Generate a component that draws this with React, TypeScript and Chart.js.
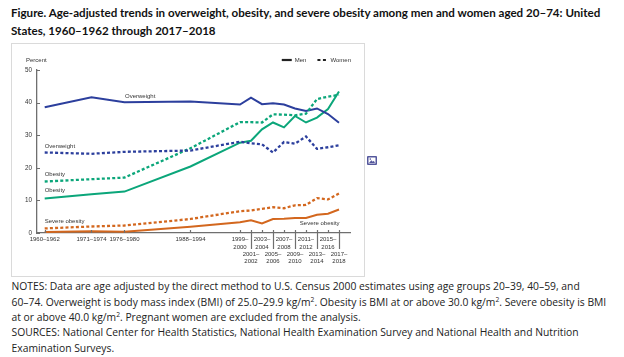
import { useEffect, useRef } from "react";
import { Chart, registerables } from "chart.js";

Chart.register(...registerables);

// Survey periods and their plotted positions on the time axis
const periodLabels = [
  "1960–1962", "1971–1974", "1976–1980", "1988–1994", "1999–2000", "2001–2002",
  "2003–2004", "2005–2006", "2007–2008", "2009–2010", "2011–2012", "2013–2014",
  "2015–2016", "2017–2018",
];
const periodX = [1964, 1972.5, 1978.5, 1990.5, 1999.5, 2001.5, 2003.5, 2005.5, 2007.5, 2009.5, 2011.5, 2013.5, 2015.5, 2017.5];

// Percent values
const menOverweight = [38.6, 41.6, 40.1, 40.3, 39.4, 41.5, 39.5, 39.8, 39.4, 38.2, 37.4, 38.2, 36.5, 33.8];
const womenOverweight = [24.7, 24.3, 24.9, 25.3, 28.0, 27.5, 27.2, 24.7, 27.9, 27.4, 29.6, 25.8, 26.3, 26.9];
const menObesity = [10.6, 11.9, 12.7, 20.4, 27.7, 28.3, 31.8, 33.9, 32.4, 35.9, 33.9, 35.4, 38.0, 43.4];
const womenObesity = [15.8, 16.5, 17.0, 26.0, 34.0, 34.0, 33.9, 36.4, 36.3, 36.1, 36.6, 41.1, 41.8, 42.4];
const menSevere = [0.3, 0.5, 0.4, 1.9, 3.3, 3.9, 2.9, 4.3, 4.4, 4.6, 4.6, 5.6, 5.9, 7.2];
const womenSevere = [1.4, 2.0, 2.3, 4.3, 6.7, 6.9, 7.4, 7.9, 7.6, 8.5, 8.6, 10.7, 10.3, 12.1];

const yTickValues = [0, 10, 20, 30, 40, 50];

const BLUE = "#2c3f9d";
const GREEN = "#0ba67a";
const ORANGE = "#d3671e";
const AXIS = "#6f6f6f";
const TEXT = "#333333";
const CHART_FONT = '"Liberation Sans", Arial, sans-serif';

const isLowerRow = (i: number) => i >= 5 && (i - 5) % 2 === 0;

function tickLabel(i: number): string | string[] {
  const lab = periodLabels[i];
  if (i < 4) return lab;
  const [a, b] = lab.split("–");
  return isLowerRow(i) ? ["", "", a + "–", b] : [a + "–", b];
}

const annotations = [
  { text: "Overweight", x: 1978.6, y: 42.0, align: "left" },
  { text: "Overweight", x: 1964, y: 26.6, align: "left" },
  { text: "Obesity", x: 1964, y: 18.0, align: "left" },
  { text: "Obesity", x: 1964, y: 13.1, align: "left" },
  { text: "Severe obesity", x: 1964, y: 3.5, align: "left" },
  { text: "Severe obesity", x: 2017.6, y: 3.0, align: "right" },
];

const overlayPlugin = {
  id: "overlay",
  afterDraw(chart: any) {
    const { ctx, chartArea: ca } = chart;
    const xs = chart.scales.x;
    const ys = chart.scales.y;
    ctx.save();
    // inward tick marks and separators
    ctx.strokeStyle = AXIS;
    ctx.lineWidth = 1.2;
    ctx.setLineDash([]);
    ctx.beginPath();
    yTickValues.forEach((v) => {
      const py = Math.round(ys.getPixelForValue(v)) + 0.5;
      ctx.moveTo(ca.left, py);
      ctx.lineTo(ca.left + 3, py);
    });
    periodX.forEach((v, i) => {
      const px = Math.round(xs.getPixelForValue(v)) + 0.5;
      ctx.moveTo(px, ca.bottom - 3);
      ctx.lineTo(px, isLowerRow(i) ? ca.bottom + 16 : ca.bottom);
    });
    ctx.stroke();

    ctx.font = `6px ${CHART_FONT}`;
    ctx.fillStyle = TEXT;
    ctx.textBaseline = "middle";
    annotations.forEach((a) => {
      ctx.textAlign = a.align;
      ctx.fillText(a.text, xs.getPixelForValue(a.x), ys.getPixelForValue(a.y));
    });

    // axis unit
    ctx.textAlign = "left";
    const topY = ca.top - 10;
    ctx.fillText("Percent", ca.left - 11, topY);

    // legend
    const womenW = ctx.measureText("Women").width;
    const menW = ctx.measureText("Men").width;
    const womenX = ca.right + 1 - womenW;
    ctx.fillText("Women", womenX, topY);
    const menX = womenX - 13 - 11 - menW;
    ctx.fillText("Men", menX, topY);
    ctx.strokeStyle = "#222";
    ctx.lineWidth = 2.2;
    ctx.beginPath();
    ctx.moveTo(menX - 13, topY);
    ctx.lineTo(menX - 3, topY);
    ctx.stroke();
    ctx.setLineDash([3, 2.5]);
    ctx.beginPath();
    ctx.moveTo(womenX - 13, topY);
    ctx.lineTo(womenX - 2.5, topY);
    ctx.stroke();
    ctx.restore();
  },
};

function series(values: number[]) {
  return periodX.map((x, i) => ({ x, y: values[i] }));
}

function ChartBox() {
  const ref = useRef<HTMLCanvasElement | null>(null);
  useEffect(() => {
    if (!ref.current) return;
    const solid = (label: string, data: number[], color: string) => ({
      label, data: series(data), borderColor: color, backgroundColor: color,
      borderWidth: 2, pointRadius: 0, tension: 0, fill: false,
    });
    const dotted = (label: string, data: number[], color: string) => ({
      ...solid(label, data, color), borderWidth: 2.3, borderDash: [3, 2.2],
    });
    const chart = new Chart(ref.current, {
      type: "line",
      data: {
        datasets: [
          dotted("Women overweight", womenOverweight, BLUE),
          dotted("Women obesity", womenObesity, GREEN),
          dotted("Women severe obesity", womenSevere, ORANGE),
          solid("Men overweight", menOverweight, BLUE),
          solid("Men obesity", menObesity, GREEN),
          solid("Men severe obesity", menSevere, ORANGE),
        ],
      },
      options: {
        animation: false,
        responsive: false,
        devicePixelRatio: 1,
        layout: { padding: { top: 27, right: 15, left: 0, bottom: 0 } },
        plugins: { legend: { display: false }, tooltip: { enabled: false } },
        scales: {
          x: {
            type: "linear",
            min: 1962.6,
            max: 2019.5,
            afterBuildTicks: (s: any) => {
              s.ticks = periodX.map((v) => ({ value: v }));
            },
            afterFit: (s: any) => {
              s.height = 44;
            },
            grid: { display: true, drawOnChartArea: false, drawTicks: false },
            border: { display: true, color: AXIS, width: 1.3 },
            ticks: {
              autoSkip: false,
              maxRotation: 0,
              minRotation: 0,
              padding: 3,
              color: TEXT,
              font: { size: 6, family: CHART_FONT, lineHeight: 1.22 },
              callback: (_v: any, i: number) => tickLabel(i),
            },
          },
          y: {
            min: 0,
            max: 50,
            afterFit: (s: any) => {
              s.width = 26;
            },
            grid: { display: true, drawOnChartArea: false, drawTicks: false },
            border: { display: true, color: AXIS, width: 1.3 },
            ticks: {
              stepSize: 10,
              padding: 5,
              color: TEXT,
              font: { size: 6.3, family: CHART_FONT },
            },
          },
        },
      },
      plugins: [overlayPlugin],
    } as any);
    return () => chart.destroy();
  }, []);
  return (
    <canvas
      ref={ref}
      width={354}
      height={234}
      style={{ position: "absolute", left: 11, top: 43, width: 354, height: 234 }}
    />
  );
}

let measureCtx: CanvasRenderingContext2D | null = null;
function fitSize(text: string, weight: string, family: string, target: number) {
  if (!measureCtx) measureCtx = document.createElement("canvas").getContext("2d");
  if (!measureCtx) return 12;
  measureCtx.font = `${weight} 100px ${family}`;
  return (100 * target) / measureCtx.measureText(text).width;
}

const titleLine1 =
  "Figure. Age-adjusted trends in overweight, obesity, and severe obesity among men and women aged 20–74: United";
const titleLine2 = "States, 1960–1962 through 2017–2018";
const notesLine1 =
  "NOTES: Data are age adjusted by the direct method to U.S. Census 2000 estimates using age groups 20–39, 40–59, and";

export default function App() {
  const titleFamily = '"Lato", "Open Sans", sans-serif';
  const notesFamily = '"Open Sans", sans-serif';
  const titleSize = fitSize(titleLine1, "bold", titleFamily, 591);
  const notesSize = fitSize(notesLine1, "normal", notesFamily, 569);
  const sup = (t: string) => (
    <sup style={{ fontSize: "0.65em", lineHeight: 0, verticalAlign: "0.55em" }}>{t}</sup>
  );
  const lineStyle: any = { whiteSpace: "nowrap", height: 15.4, lineHeight: "15.4px" };
  return (
    <div
      style={{
        position: "fixed", left: 0, top: 0, width: 624, height: 357,
        background: "#ffffff", overflow: "hidden",
      }}
    >
      <div
        style={{
          position: "absolute", left: 11, top: 4, fontFamily: titleFamily,
          fontWeight: "bold", fontSize: titleSize, lineHeight: "18px", color: "#111",
          whiteSpace: "nowrap",
        }}
      >
        <div>{titleLine1}</div>
        <div>{titleLine2}</div>
      </div>
      <div
        style={{
          position: "absolute", left: 11, top: 43, width: 354, height: 234,
          border: "1px solid #dadada", boxSizing: "border-box",
        }}
      />
      <ChartBox />
      <svg
        width={10}
        height={9}
        viewBox="0 0 10 9"
        style={{ position: "absolute", left: 367, top: 155.5 }}
      >
        <rect x={0} y={0} width={10} height={9} rx={1} fill="#54579c" />
        <rect x={1.5} y={1.5} width={7} height={6} fill="#ffffff" />
        <path d="M2 7 L4.3 4.2 L5.8 5.8 L6.8 4.8 L8 7 Z" fill="#54579c" />
        <circle cx={3.3} cy={3.1} r={0.8} fill="#54579c" />
      </svg>
      <div
        style={{
          position: "absolute", left: 11.5, top: 279.3, fontFamily: notesFamily,
          fontSize: notesSize, color: "#222",
        }}
      >
        <div style={lineStyle}>{notesLine1}</div>
        <div style={lineStyle}>
          60–74. Overweight is body mass index (BMI) of 25.0–29.9 kg/m{sup("2")}. Obesity is BMI at or above 30.0 kg/m
          {sup("2")}. Severe obesity is BMI
        </div>
        <div style={lineStyle}>
          at or above 40.0 kg/m{sup("2")}. Pregnant women are excluded from the analysis.
        </div>
        <div style={lineStyle}>
          SOURCES: National Center for Health Statistics, National Health Examination Survey and National Health and Nutrition
        </div>
        <div style={lineStyle}>Examination Surveys.</div>
      </div>
    </div>
  );
}
